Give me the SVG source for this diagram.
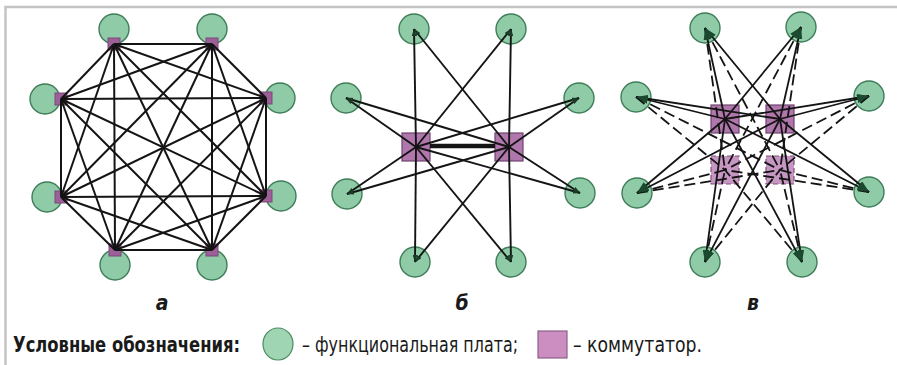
<svg xmlns="http://www.w3.org/2000/svg" width="897" height="365" viewBox="0 0 897 365">
<defs>
<style>
.bg{fill:#ffffff}
.frame{fill:none;stroke:#c4c4c4;stroke-width:2.5}
.fb{fill:#8ecba6;stroke:#3e7d58;stroke-width:1.4}
.swa{fill:#9c5f98;stroke:#7a4a78;stroke-width:1}
.sw{fill:#b077ac;stroke:#6e4470;stroke-width:1.2}
.swd{fill:#c697c2;stroke:#7d5079;stroke-width:1.2;stroke-dasharray:5,3}
.ln{stroke:#141414;stroke-width:2;fill:none}
.lb{stroke:#141414;stroke-width:1.9;fill:none;marker-end:url(#arrS)}
.lc{stroke:#141414;stroke-width:1.8;fill:none;marker-end:url(#arrC)}
.ld{stroke:#141414;stroke-width:1.8;fill:none;stroke-dasharray:11,5}
.thick{stroke:#141414;stroke-width:4.5;fill:none}
.lbl{font-family:"DejaVu Sans Condensed","DejaVu Sans",sans-serif;font-stretch:condensed;font-weight:bold;font-style:italic;font-size:21px;fill:#1a1a1a;text-anchor:middle}
.leg{font-family:"DejaVu Sans Condensed","DejaVu Sans",sans-serif;font-stretch:condensed;font-size:22px;fill:#1a1a1a}
.legb{font-weight:bold}
.lfb{fill:#9fd5b2;stroke:#4a8a62;stroke-width:1.2}
.lsw{fill:#cc8dc0;stroke:#8c6088;stroke-width:1.2}
</style>
<marker id="arrS" viewBox="0 0 7 5" refX="7" refY="2.5" markerWidth="7" markerHeight="5" markerUnits="userSpaceOnUse" orient="auto">
<path d="M0,0 L7,2.5 L0,5 z" fill="#1b3b28"/>
</marker>
<marker id="arrC" viewBox="0 0 12 8" refX="12" refY="4" markerWidth="12" markerHeight="8" markerUnits="userSpaceOnUse" orient="auto">
<path d="M0,0 L12,4 L0,8 z" fill="#1b4a30"/>
</marker>
</defs>
<rect class="bg" x="0" y="0" width="897" height="365"/>
<polyline class="frame" points="5.5,365 5.5,7 897,7"/>

<!-- Panel a nodes -->
<g id="a-n1"><circle class="fb" cx="114" cy="29" r="15"/><rect class="swa" x="108" y="38" width="12" height="12"/></g>
<g id="a-n2"><circle class="fb" cx="212" cy="29" r="15"/><rect class="swa" x="206" y="38" width="12" height="12"/></g>
<g id="a-n3"><circle class="fb" cx="280" cy="98" r="15"/><rect class="swa" x="260" y="92" width="12" height="12"/></g>
<g id="a-n4"><circle class="fb" cx="281" cy="196" r="15"/><rect class="swa" x="260" y="190" width="12" height="12"/></g>
<g id="a-n5"><circle class="fb" cx="212" cy="265" r="15"/><rect class="swa" x="206" y="244" width="12" height="12"/></g>
<g id="a-n6"><circle class="fb" cx="115" cy="265" r="15"/><rect class="swa" x="109" y="244" width="12" height="12"/></g>
<g id="a-n7"><circle class="fb" cx="47" cy="197" r="15"/><rect class="swa" x="55" y="191" width="12" height="12"/></g>
<g id="a-n8"><circle class="fb" cx="45" cy="99" r="15"/><rect class="swa" x="55" y="93" width="12" height="12"/></g>

<!-- Panel b nodes -->
<g id="b-n1"><circle class="fb" cx="414" cy="29" r="15"/></g>
<g id="b-n2"><circle class="fb" cx="511" cy="29" r="15"/></g>
<g id="b-n3"><circle class="fb" cx="579" cy="98" r="15"/></g>
<g id="b-n4"><circle class="fb" cx="580" cy="193" r="15"/></g>
<g id="b-n5"><circle class="fb" cx="511" cy="262" r="15"/></g>
<g id="b-n6"><circle class="fb" cx="415" cy="262" r="15"/></g>
<g id="b-n7"><circle class="fb" cx="347" cy="194" r="15"/></g>
<g id="b-n8"><circle class="fb" cx="346" cy="98" r="15"/></g>
<g id="b-s1"><rect class="sw" x="402" y="133" width="28" height="28"/></g>
<g id="b-s2"><rect class="sw" x="495" y="133" width="28" height="28"/></g>

<!-- Panel c nodes -->
<g id="c-n1"><circle class="fb" cx="705" cy="28" r="15"/></g>
<g id="c-n2"><circle class="fb" cx="801" cy="27" r="15"/></g>
<g id="c-n3"><circle class="fb" cx="869" cy="96" r="15"/></g>
<g id="c-n4"><circle class="fb" cx="869" cy="192" r="15"/></g>
<g id="c-n5"><circle class="fb" cx="802" cy="262" r="15"/></g>
<g id="c-n6"><circle class="fb" cx="705" cy="262" r="15"/></g>
<g id="c-n7"><circle class="fb" cx="637" cy="193" r="15"/></g>
<g id="c-n8"><circle class="fb" cx="636" cy="97" r="15"/></g>
<g id="c-s1"><rect class="sw" x="711" y="105" width="28" height="28"/></g>
<g id="c-s2"><rect class="sw" x="766" y="105" width="28" height="28"/></g>
<g id="c-s3"><rect class="swd" x="711" y="156" width="28" height="28"/></g>
<g id="c-s4"><rect class="swd" x="766" y="156" width="28" height="28"/></g>

<!-- Connectors -->
<g id="connectors">
<g id="a-links">
<line class="ln" x1="114" y1="44" x2="212" y2="44"/>
<line class="ln" x1="114" y1="44" x2="266" y2="98"/>
<line class="ln" x1="114" y1="44" x2="266" y2="196"/>
<line class="ln" x1="114" y1="44" x2="212" y2="250"/>
<line class="ln" x1="114" y1="44" x2="115" y2="250"/>
<line class="ln" x1="114" y1="44" x2="61" y2="197"/>
<line class="ln" x1="114" y1="44" x2="61" y2="99"/>
<line class="ln" x1="212" y1="44" x2="266" y2="98"/>
<line class="ln" x1="212" y1="44" x2="266" y2="196"/>
<line class="ln" x1="212" y1="44" x2="212" y2="250"/>
<line class="ln" x1="212" y1="44" x2="115" y2="250"/>
<line class="ln" x1="212" y1="44" x2="61" y2="197"/>
<line class="ln" x1="212" y1="44" x2="61" y2="99"/>
<line class="ln" x1="266" y1="98" x2="266" y2="196"/>
<line class="ln" x1="266" y1="98" x2="212" y2="250"/>
<line class="ln" x1="266" y1="98" x2="115" y2="250"/>
<line class="ln" x1="266" y1="98" x2="61" y2="197"/>
<line class="ln" x1="266" y1="98" x2="61" y2="99"/>
<line class="ln" x1="266" y1="196" x2="212" y2="250"/>
<line class="ln" x1="266" y1="196" x2="115" y2="250"/>
<line class="ln" x1="266" y1="196" x2="61" y2="197"/>
<line class="ln" x1="266" y1="196" x2="61" y2="99"/>
<line class="ln" x1="212" y1="250" x2="115" y2="250"/>
<line class="ln" x1="212" y1="250" x2="61" y2="197"/>
<line class="ln" x1="212" y1="250" x2="61" y2="99"/>
<line class="ln" x1="115" y1="250" x2="61" y2="197"/>
<line class="ln" x1="115" y1="250" x2="61" y2="99"/>
<line class="ln" x1="61" y1="197" x2="61" y2="99"/>
</g>
<g id="b-links">
<line class="thick" x1="430" y1="146" x2="495" y2="146"/>
<line class="lb" x1="416" y1="147" x2="414" y2="29"/>
<line class="lb" x1="416" y1="147" x2="511" y2="29"/>
<line class="lb" x1="416" y1="147" x2="579" y2="98"/>
<line class="lb" x1="416" y1="147" x2="580" y2="193"/>
<line class="lb" x1="416" y1="147" x2="511" y2="262"/>
<line class="lb" x1="416" y1="147" x2="415" y2="262"/>
<line class="lb" x1="416" y1="147" x2="347" y2="194"/>
<line class="lb" x1="416" y1="147" x2="346" y2="98"/>
<line class="lb" x1="509" y1="147" x2="414" y2="29"/>
<line class="lb" x1="509" y1="147" x2="511" y2="29"/>
<line class="lb" x1="509" y1="147" x2="579" y2="98"/>
<line class="lb" x1="509" y1="147" x2="580" y2="193"/>
<line class="lb" x1="509" y1="147" x2="511" y2="262"/>
<line class="lb" x1="509" y1="147" x2="415" y2="262"/>
<line class="lb" x1="509" y1="147" x2="347" y2="194"/>
<line class="lb" x1="509" y1="147" x2="346" y2="98"/>
</g>
<g id="c-links">
<line class="ld" x1="705" y1="28" x2="725" y2="170"/>
<line class="ld" x1="705" y1="28" x2="780" y2="170"/>
<line class="ld" x1="801" y1="27" x2="725" y2="170"/>
<line class="ld" x1="801" y1="27" x2="780" y2="170"/>
<line class="ld" x1="869" y1="96" x2="725" y2="170"/>
<line class="ld" x1="869" y1="96" x2="780" y2="170"/>
<line class="ld" x1="869" y1="192" x2="725" y2="170"/>
<line class="ld" x1="869" y1="192" x2="780" y2="170"/>
<line class="ld" x1="802" y1="262" x2="725" y2="170"/>
<line class="ld" x1="802" y1="262" x2="780" y2="170"/>
<line class="ld" x1="705" y1="262" x2="725" y2="170"/>
<line class="ld" x1="705" y1="262" x2="780" y2="170"/>
<line class="ld" x1="637" y1="193" x2="725" y2="170"/>
<line class="ld" x1="637" y1="193" x2="780" y2="170"/>
<line class="ld" x1="636" y1="97" x2="725" y2="170"/>
<line class="ld" x1="636" y1="97" x2="780" y2="170"/>
<line class="lc" x1="725" y1="119" x2="705" y2="28"/>
<line class="lc" x1="780" y1="119" x2="705" y2="28"/>
<line class="lc" x1="725" y1="119" x2="801" y2="27"/>
<line class="lc" x1="780" y1="119" x2="801" y2="27"/>
<line class="lc" x1="725" y1="119" x2="869" y2="96"/>
<line class="lc" x1="780" y1="119" x2="869" y2="96"/>
<line class="lc" x1="725" y1="119" x2="869" y2="192"/>
<line class="lc" x1="780" y1="119" x2="869" y2="192"/>
<line class="lc" x1="725" y1="119" x2="802" y2="262"/>
<line class="lc" x1="780" y1="119" x2="802" y2="262"/>
<line class="lc" x1="725" y1="119" x2="705" y2="262"/>
<line class="lc" x1="780" y1="119" x2="705" y2="262"/>
<line class="lc" x1="725" y1="119" x2="637" y2="193"/>
<line class="lc" x1="780" y1="119" x2="637" y2="193"/>
<line class="lc" x1="725" y1="119" x2="636" y2="97"/>
<line class="lc" x1="780" y1="119" x2="636" y2="97"/>
</g>
</g>

<!-- Panel labels -->
<text class="lbl" x="162" y="310">а</text>
<text class="lbl" x="462" y="310">б</text>
<text class="lbl" x="753" y="310">в</text>

<!-- Legend -->
<g id="legend">
<text class="leg legb" x="13" y="352" textLength="227" lengthAdjust="spacingAndGlyphs">Условные обозначения:</text>
<ellipse class="lfb" cx="278" cy="344" rx="15" ry="16"/>
<text class="leg" x="302" y="352" textLength="216" lengthAdjust="spacingAndGlyphs">– функциональная плата;</text>
<rect class="lsw" x="538" y="331" width="29" height="27"/>
<text class="leg" x="573" y="352" textLength="129" lengthAdjust="spacingAndGlyphs">– коммутатор.</text>
</g>
</svg>
